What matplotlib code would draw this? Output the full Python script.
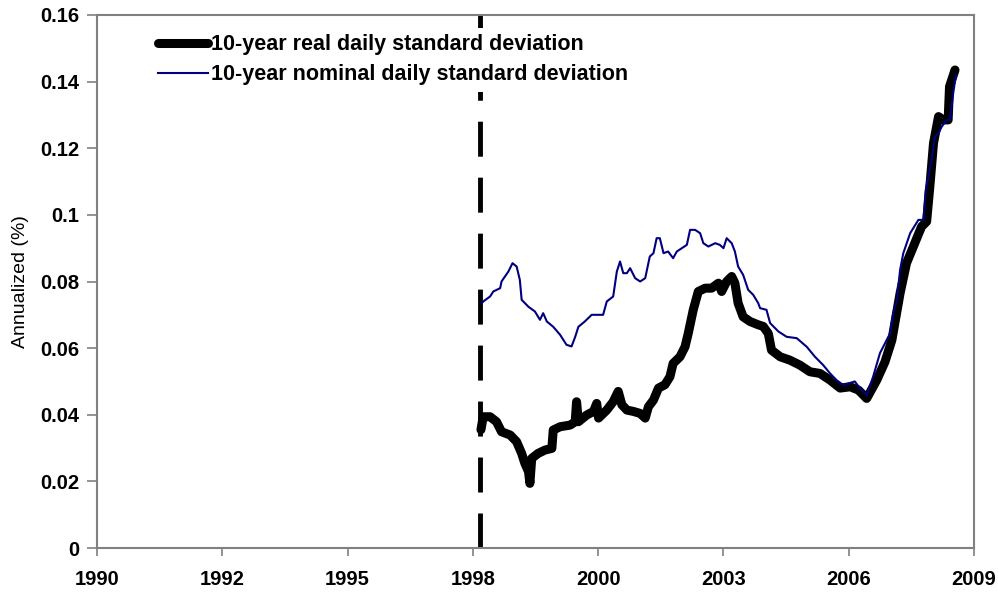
import matplotlib
matplotlib.use('Agg')
import matplotlib.pyplot as plt

plt.rcParams['font.family'] = ['Liberation Sans', 'DejaVu Sans']

# decimal years
real_x = [1998.39, 1998.44, 1998.59, 1998.73, 1998.84, 1999.03, 1999.17, 1999.28, 1999.35,
          1999.43, 1999.46, 1999.50, 1999.64, 1999.79, 1999.94, 1999.97, 2000.12, 2000.34,
          2000.45, 2000.48, 2000.52, 2000.70, 2000.85, 2000.92, 2000.96, 2001.14, 2001.28,
          2001.39, 2001.47, 2001.58, 2001.72, 2001.87, 2001.98, 2002.05, 2002.16, 2002.27,
          2002.41, 2002.52, 2002.59, 2002.74, 2002.85, 2002.92, 2003.03, 2003.14, 2003.29,
          2003.43, 2003.58, 2003.65, 2003.76, 2003.87, 2003.94, 2004.01, 2004.12, 2004.27,
          2004.45, 2004.56, 2004.67, 2004.74, 2004.93, 2005.14, 2005.36, 2005.58, 2005.80,
          2006.02, 2006.24, 2006.46, 2006.64, 2006.82, 2007.04, 2007.22, 2007.37, 2007.55,
          2007.69, 2007.84, 2008.02, 2008.13, 2008.20, 2008.28, 2008.39, 2008.49, 2008.60,
          2008.63, 2008.75]
real_sd = [0.0355, 0.0394, 0.0394, 0.0379, 0.0349, 0.0339, 0.0319, 0.0284, 0.0254,
           0.0229, 0.0194, 0.0269, 0.0284, 0.0294, 0.0299, 0.0354, 0.0364, 0.0369,
           0.0379, 0.0439, 0.0379, 0.0399, 0.0410, 0.0434, 0.0390, 0.0414, 0.0439,
           0.0470, 0.0430, 0.0414, 0.0410, 0.0404, 0.0390, 0.0424, 0.0444, 0.0480,
           0.0490, 0.0514, 0.0554, 0.0574, 0.0604, 0.0644, 0.0715, 0.0770, 0.0780,
           0.0780, 0.0795, 0.0770, 0.0800, 0.0815, 0.0795, 0.0735, 0.0694, 0.0680,
           0.0670, 0.0665, 0.0644, 0.0594, 0.0574, 0.0564, 0.0549, 0.0529, 0.0524,
           0.0504, 0.0480, 0.0484, 0.0474, 0.0449, 0.0504, 0.0559, 0.0624, 0.0765,
           0.0855, 0.0905, 0.0965, 0.0980, 0.1085, 0.1215, 0.1295, 0.1285, 0.1285,
           0.1385, 0.1435]

nom_x = [1998.41, 1998.44, 1998.59, 1998.66, 1998.81, 1998.84, 1998.99, 1999.08, 1999.17,
         1999.24, 1999.28, 1999.43, 1999.57, 1999.68, 1999.75, 1999.83, 1999.97, 2000.12,
         2000.26, 2000.37, 2000.45, 2000.52, 2000.66, 2000.81, 2001.06, 2001.14, 2001.28,
         2001.36, 2001.43, 2001.50, 2001.58, 2001.65, 2001.76, 2001.87, 2001.98, 2002.08,
         2002.16, 2002.23, 2002.30, 2002.38, 2002.48, 2002.59, 2002.67, 2002.78, 2002.89,
         2002.96, 2003.07, 2003.18, 2003.25, 2003.36, 2003.51, 2003.61, 2003.69, 2003.76,
         2003.87, 2003.94, 2004.01, 2004.12, 2004.23, 2004.34, 2004.45, 2004.49, 2004.63,
         2004.71, 2004.89, 2005.07, 2005.29, 2005.51, 2005.69, 2005.87, 2006.02, 2006.16,
         2006.31, 2006.42, 2006.56, 2006.67, 2006.82, 2006.96, 2007.11, 2007.33, 2007.40,
         2007.48, 2007.55, 2007.62, 2007.77, 2007.95, 2008.06, 2008.11, 2008.24, 2008.31,
         2008.39, 2008.46, 2008.57, 2008.64, 2008.71, 2008.77]
nom_sd = [0.0735, 0.0740, 0.0755, 0.0770, 0.0780, 0.0800, 0.0830, 0.0855, 0.0845,
          0.0805, 0.0745, 0.0724, 0.0710, 0.0685, 0.0705, 0.0680, 0.0664, 0.0640,
          0.0610, 0.0605, 0.0634, 0.0664, 0.0680, 0.0700, 0.0700, 0.0740, 0.0755,
          0.0830, 0.0860, 0.0825, 0.0825, 0.0840, 0.0810, 0.0800, 0.0810, 0.0875,
          0.0885, 0.0930, 0.0930, 0.0885, 0.0890, 0.0870, 0.0890, 0.0900, 0.0910,
          0.0955, 0.0955, 0.0945, 0.0915, 0.0905, 0.0915, 0.0910, 0.0900, 0.0930,
          0.0915, 0.0890, 0.0845, 0.0820, 0.0775, 0.0760, 0.0735, 0.0720, 0.0715,
          0.0675, 0.0650, 0.0634, 0.0630, 0.0604, 0.0574, 0.0549, 0.0524, 0.0504,
          0.0489, 0.0494, 0.0500, 0.0480, 0.0459, 0.0514, 0.0585, 0.0644, 0.0705,
          0.0744, 0.0835, 0.0885, 0.0945, 0.0985, 0.0985, 0.1075, 0.1165, 0.1235,
          0.1245, 0.1265, 0.1285, 0.1285, 0.1365, 0.1420]

break_year = 1998.37
x_ticks = [1990 + k * 1000 / 365.25 for k in range(8)]
x_labels = ['1990', '1992', '1995', '1998', '2000', '2003', '2006', '2009']
y_ticks = [0, 0.02, 0.04, 0.06, 0.08, 0.1, 0.12, 0.14, 0.16]
y_labels = ['0', '0.02', '0.04', '0.06', '0.08', '0.1', '0.12', '0.14', '0.16']

fig = plt.figure(figsize=(9.98, 5.95), dpi=100)
ax = fig.add_axes([97 / 998, 1 - 548 / 595, 877 / 998, 533 / 595])

ax.plot(real_x, real_sd, color='black', lw=6.5, solid_capstyle='round',
        label='10-year real daily standard deviation')
ax.plot(nom_x, nom_sd, color='#000080', lw=1.5,
        label='10-year nominal daily standard deviation')
vline, = ax.plot([break_year, break_year], [0, 0.16], color='black', lw=3.5, zorder=1)
vline.set_dashes((25.2 / 3.5, 15.1 / 3.5))

ax.set_xlim(x_ticks[0], x_ticks[-1])
ax.set_ylim(0, 0.16)
ax.set_xticks(x_ticks)
ax.set_xticklabels(x_labels, fontsize=14.5, fontweight='bold')
ax.set_yticks(y_ticks)
ax.set_yticklabels(y_labels, fontsize=14.5, fontweight='bold')
ax.tick_params(axis='x', direction='out', length=6, width=1.2, color='#808080', pad=10)
ax.tick_params(axis='y', direction='out', length=7, width=1.2, color='#808080', pad=6)
for s in ax.spines.values():
    s.set_color('#808080')
    s.set_linewidth(1.5)
ax.set_ylabel('Annualized (%)', fontsize=14, labelpad=8)

leg = ax.legend(loc='upper left', bbox_to_anchor=(152 / 998, 1 - 28 / 595),
                bbox_transform=fig.transFigure, prop={'weight': 'bold', 'size': 15.5},
                frameon=True, fancybox=False, framealpha=1, edgecolor='none',
                handlelength=2.3, handletextpad=0.12, labelspacing=0.4,
                borderpad=0.3, borderaxespad=0)

fig.savefig('out.png', dpi=100)
